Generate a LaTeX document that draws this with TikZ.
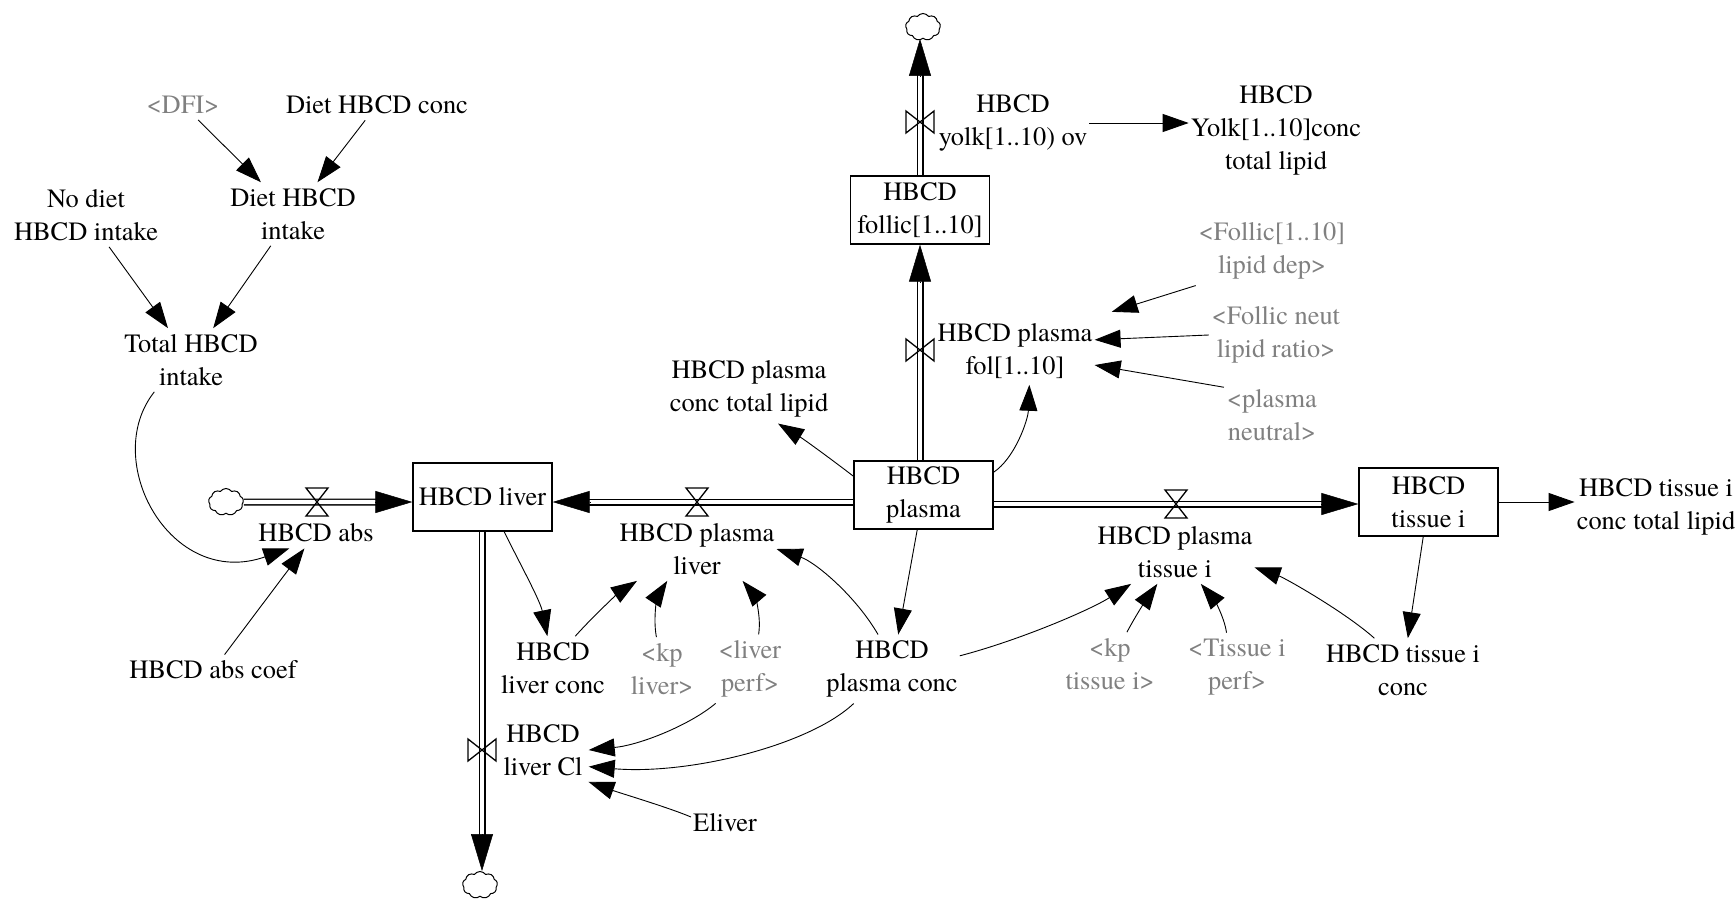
\documentclass[tikz,border=0pt]{standalone}
\usepackage{fontspec}
\IfFontExistsTF{texgyretermes-regular.otf}{\setmainfont{texgyretermes-regular.otf}}{\setmainfont{Liberation Serif}}
\usetikzlibrary{arrows.meta,calc,shapes.symbols}
\pgfdeclarelayer{bg}
\pgfsetlayers{bg,main}
\definecolor{shadowgray}{RGB}{128,128,128}
\begin{document}
\begin{tikzpicture}[x=1pt,y=-1pt,
  font=\fontsize{26.4}{33}\selectfont,
  lbl/.style={align=center, inner xsep=2pt, inner ysep=6pt},
  shadowvar/.style={lbl, text=shadowgray, inner xsep=3pt},
  stock/.style={draw, fill=white, line width=1.3pt, minimum width=139pt, minimum height=68pt, align=center, inner sep=0pt},
  pipe/.style={double, double distance=4.4pt, line width=1.3pt},
  pipehead/.style={line width=0.5pt, -{Triangle[length=37pt,width=22pt]}},
  valve/.style={line width=1.3pt, line join=miter},
  info/.style={line width=0.9pt, -{Triangle[length=26pt,width=18pt]}},
  sourcesink/.style={cloud, cloud puffs=9, cloud puff arc=110, aspect=1.3, draw, line width=1pt, minimum width=35pt, minimum height=27pt, inner sep=0pt}
]
\useasboundingbox (0,0) rectangle (1736,899);

% stocks
\node[stock] (liver) at (482.5,497) {HBCD liver};
\node[stock] (plasma) at (923.5,495) {HBCD\\plasma};
\node[stock] (follic) at (920,210) {HBCD\\follic[1..10]};
\node[stock] (tissue) at (1428.5,502) {HBCD\\tissue i};

% sources and sinks
\node[sourcesink] (cloudL) at (226,502) {};
\node[sourcesink] (cloudB) at (480,885) {};
\node[sourcesink] (cloudT) at (923,27) {};

% valve centres
\coordinate (vabs) at (317,502);
\coordinate (vpl) at (697,502);
\coordinate (vpt) at (1176,504);
\coordinate (vfol) at (920,350);
\coordinate (vyolk) at (920,122);
\coordinate (vcl) at (482,750);

% pipe end points
\coordinate (p1e) at (liver.west |- vabs);
\coordinate (p2s) at (plasma.west |- vpl);
\coordinate (p2e) at (liver.east |- vpl);
\coordinate (p3s) at (plasma.east |- vpt);
\coordinate (p3e) at (tissue.west |- vpt);
\coordinate (p4s) at (plasma.north -| vfol);
\coordinate (p4e) at (follic.south -| vfol);
\coordinate (p5s) at (follic.north -| vyolk);
\coordinate (p5e) at (cloudT.south -| vyolk);
\coordinate (p6s) at (liver.south -| vcl);
\coordinate (p6e) at (cloudB.north -| vcl);

\begin{pgfonlayer}{bg}
\draw[pipe] (cloudL.east) -- ($(p1e)!30pt!(cloudL.east)$);
\draw[pipe] (p2s) -- ($(p2e)!30pt!(p2s)$);
\draw[pipe] (p3s) -- ($(p3e)!30pt!(p3s)$);
\draw[pipe] (p4s) -- ($(p4e)!30pt!(p4s)$);
\draw[pipe] (p5s) -- ($(p5e)!30pt!(p5s)$);
\draw[pipe] (p6s) -- ($(p6e)!30pt!(p6s)$);
\end{pgfonlayer}
\draw[pipehead] ($(p1e)!37pt!(cloudL.east)$) -- (p1e);
\draw[pipehead] ($(p2e)!37pt!(p2s)$) -- (p2e);
\draw[pipehead] ($(p3e)!37pt!(p3s)$) -- (p3e);
\draw[pipehead] ($(p4e)!37pt!(p4s)$) -- (p4e);
\draw[pipehead] ($(p5e)!37pt!(p5s)$) -- (p5e);
\draw[pipehead] ($(p6e)!37pt!(p6s)$) -- (p6e);

% valves
\draw[valve] (vabs) ++(-11,-14) -- ++(22,0) -- ++(-22,28) -- ++(22,0) -- cycle;
\draw[valve] (vpl) ++(-11,-14) -- ++(22,0) -- ++(-22,28) -- ++(22,0) -- cycle;
\draw[valve] (vpt) ++(-11,-14) -- ++(22,0) -- ++(-22,28) -- ++(22,0) -- cycle;
\draw[valve] (vfol) ++(-14,-11) -- ++(0,22) -- ++(28,-22) -- ++(0,22) -- cycle;
\draw[valve] (vyolk) ++(-14,-11) -- ++(0,22) -- ++(28,-22) -- ++(0,22) -- cycle;
\draw[valve] (vcl) ++(-14,-11) -- ++(0,22) -- ++(28,-22) -- ++(0,22) -- cycle;

% labels
\node[lbl] (abs) at (316,533) {HBCD abs};
\node[lbl] (plasmaliver) at (697,549) {HBCD plasma\\liver};
\node[lbl] (plasmatissue) at (1175,552) {HBCD plasma\\tissue i};
\node[lbl] (fol) at (1015,351) {HBCD plasma\\fol[1..10]};
\node[lbl] (yolk) at (1013,123) {HBCD\\yolk[1..10) ov};
\node[lbl, inner xsep=6pt] (livercl) at (543,750) {HBCD\\liver Cl};
\node[lbl] (yolkconc) at (1276,130) {HBCD\\Yolk[1..10]conc\\total lipid};
\node[lbl] (plasmaconctl) at (749,389) {HBCD plasma\\conc total lipid};
\node[shadowvar] (follicdep) at (1272,251) {<Follic[1..10]\\lipid dep>};
\node[shadowvar] (follicneut) at (1276,335) {<Follic neut\\lipid ratio>};
\node[shadowvar] (plasmaneut) at (1272,415) {<plasma\\neutral>};
\node[lbl] (tissueconctl) at (1656,507) {HBCD tissue i\\conc total lipid};
\node[lbl] (tissueconc) at (1403,670) {HBCD tissue i\\conc};
\node[shadowvar] (kptissue) at (1110,664) {<kp\\tissue i>};
\node[shadowvar] (tissueperf) at (1237,667) {<Tissue i\\perf>};
\node[lbl] (plasmaconc) at (892,669) {HBCD\\plasma conc};
\node[lbl] (liverconc) at (553,668) {HBCD\\liver conc};
\node[shadowvar] (kpliver) at (662,669) {<kp\\liver>};
\node[shadowvar] (liverperf) at (750,669) {<liver\\perf>};
\node[lbl] (eliver) at (725,823) {Eliver};
\node[lbl] (abscoef) at (213,670) {HBCD abs coef};
\node[lbl] (total) at (191,360) {Total HBCD\\intake};
\node[lbl] (nodiet) at (86,215) {No diet\\HBCD intake};
\node[lbl] (dietint) at (293,214) {Diet HBCD\\intake};
\node[shadowvar] (dfi) at (183,105) {<DFI>};
\node[lbl] (dietconc) at (377,105) {Diet HBCD conc};

% information links
\draw[info] (dfi) -- (dietint);
\draw[info] (dietconc) -- (dietint);
\draw[info] (nodiet) -- (total);
\draw[info] (dietint) -- (total);
\draw[info] (total.221) .. controls (100,460) and (170,590) .. (abs.210);
\draw[info] (abscoef) -- (abs);
\draw[info] (liver.302) .. controls (518,560) and (540,600) .. (liverconc.100);
\draw[info] (liverconc.55) .. controls (597,612) and (620,592) .. (plasmaliver.208);
\draw[info] (kpliver.100) .. controls (652,612) and (660,592) .. (plasmaliver.227);
\draw[info] (liverperf.76) .. controls (762,612) and (752,592) .. (plasmaliver.325);
\draw[info] (plasmaconc.112) .. controls (855,595) and (815,562) .. (plasmaliver.east);
\draw[info] (liverperf.225) .. controls (690,725) and (640,745) .. (livercl.east);
\draw[info] (plasmaconc.222) .. controls (810,745) and (690,775) .. (livercl.-20);
\draw[info] (eliver.170) .. controls (670,808) and (620,793) .. (livercl.-35);
\draw[info] (plasma) -- (plasmaconc);
\draw[info] (plasma.165) .. controls (835,462) and (805,440) .. (plasmaconctl.-50);
\draw[info] (plasma.18) .. controls (1015,458) and (1028,420) .. (fol.-67);
\draw[info, shorten >=18pt] (follicdep.south west) -- (fol.north east);
\draw[info] (follicneut.west) -- (fol.8);
\draw[info] (plasmaneut.150) -- (fol.-10);
\draw[info] (yolk.east) -- (yolk.east -| yolkconc.west);
\draw[info] (tissue.east) -- (tissue.east -| tissueconctl.west);
\draw[info] (tissue) -- (tissueconc);
\draw[info] (tissueconc.132) .. controls (1345,612) and (1285,578) .. (plasmatissue.-11);
\draw[info] (kptissue.62) .. controls (1136,615) and (1148,597) .. (plasmatissue.241);
\draw[info] (tissueperf.107) .. controls (1224,615) and (1212,597) .. (plasmatissue.-51);
\draw[info] (plasmaconc.11) .. controls (1020,640) and (1090,610) .. (plasmatissue.216);
\end{tikzpicture}
\end{document}
